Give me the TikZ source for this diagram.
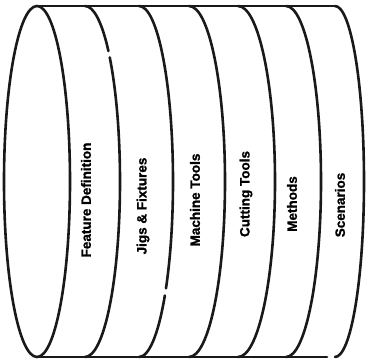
\documentclass[tikz,border=0pt]{standalone}
\usepackage{fontspec}
\setmainfont{Liberation Sans}
\newfontfamily\labfont{Liberation Sans Bold}[FakeBold=1.2]
\begin{document}
\begin{tikzpicture}[x=1pt,y=1pt,
  edge/.style={line width=2.6pt,line cap=round,black!90},
  lab/.style={rotate=90,font=\fontsize{13.5}{15}\labfont,inner sep=0pt,anchor=center}]
\useasboundingbox (0,0) rectangle (366,362);
% left full ellipse
\draw[edge] (37,180.5) ellipse[x radius=33,y radius=175.5];
% top and bottom lines
\coordinate (tl) at (37,356);
\coordinate (tr) at (335,356);
\coordinate (bl) at (37,5);
\coordinate (br) at (327,5);
\draw[edge] (tl) -- (tr);
\draw[edge] (bl) -- (br);
% arc 2 (with a small break)
\draw[edge] (85,356) arc[start angle=90,end angle=48,x radius=35,y radius=175.5];
\draw[edge] (85,180.5) ++(45:35 and 175.5) arc[start angle=45,end angle=-90,x radius=35,y radius=175.5];
% arc 3 (with a small break)
\draw[edge] (139,356) arc[start angle=90,end angle=-37.5,x radius=34,y radius=175.5];
\draw[edge] (139,180.5) ++(-40.5:34 and 175.5) arc[start angle=-40.5,end angle=-90,x radius=34,y radius=175.5];
% arcs 4-6
\draw[edge] (189,356) arc[start angle=90,end angle=-90,x radius=36,y radius=175.5];
\draw[edge] (238,356) arc[start angle=90,end angle=-90,x radius=37,y radius=175.5];
\draw[edge] (286,356) arc[start angle=90,end angle=-90,x radius=35,y radius=175.5];
% last arc
\draw[edge] (tr) arc[start angle=90,end angle=-90,x radius=29,y radius=175.5];
% labels
\node[lab] (fd) at (86,162) {Feature Definition};
\node[lab] (jf) at (143,156) {Jigs \& Fixtures};
\node[lab] (mt) at (195,162) {Machine Tools};
\node[lab] (ct) at (246,168) {Cutting Tools};
\node[lab] (me) at (292,158) {Methods};
\node[lab] (sc) at (340,157) {Scenarios};
\end{tikzpicture}
\end{document}
